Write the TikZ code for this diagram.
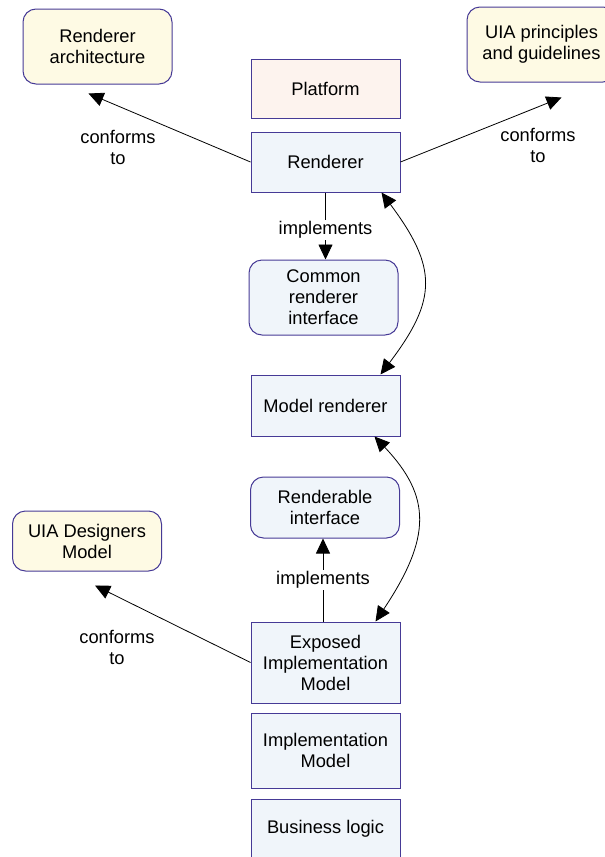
\documentclass[tikz,border=0pt]{standalone}
\usepackage{fontspec}
\setmainfont{Liberation Sans}
\usetikzlibrary{arrows.meta}
\definecolor{edgeblue}{HTML}{463A96}
\definecolor{compfill}{HTML}{F0F5FA}
\definecolor{docfill}{HTML}{FEFAE4}
\definecolor{platfill}{HTML}{FDF3EE}
\begin{document}
\begin{tikzpicture}[x=1pt,y=-1pt,font=\fontsize{18.3}{21}\selectfont,
    comp/.style={draw=edgeblue,fill=compfill,line width=1pt,align=center,
        minimum width=149pt,inner sep=2pt},
    iface/.style={comp,rounded corners=13pt},
    doc/.style={comp,fill=docfill,rounded corners=13pt},
    conn/.style={line width=0.8pt,-{Triangle[length=15pt,width=14pt]}},
    both/.style={line width=0.8pt,{Triangle[length=15pt,width=14pt]}-{Triangle[length=15pt,width=14pt]}},
    lbl/.style={align=center,inner sep=1pt},
    implbl/.style={lbl,fill=white}]
    \useasboundingbox (0,0) rectangle (605,857);

    % documents
    \node[doc,minimum height=75pt] (rendarch) at (97.5,46.5) {Renderer\\architecture};
    \node[doc,minimum height=75pt] (uiaprin) at (541.5,44.5) {UIA principles\\and guidelines};
    \node[doc,minimum height=60pt] (designers) at (87,541) {UIA Designers\\Model};

    % stack
    \node[comp,fill=platfill,minimum height=59pt] (platform) at (325.5,88.5) {Platform};
    \node[comp,minimum height=60pt] (renderer) at (325.5,162) {Renderer};
    \node[iface,minimum height=75pt] (common) at (323.5,297.5) {Common\\renderer\\interface};
    \node[comp,minimum height=61pt] (modelrend) at (325.5,405.5) {Model renderer};
    \node[iface,minimum height=61pt] (renderable) at (325,507.5) {Renderable\\interface};
    \node[comp,minimum height=81pt] (exposed) at (325.5,662.5) {Exposed\\Implementation\\Model};
    \node[comp,minimum height=75pt] (implmodel) at (325.5,750.5) {Implementation\\Model};
    \node[comp,minimum height=60pt] (business) at (325.5,829) {Business logic};

    % conforms to
    \draw[conn] (renderer.west) -- ([shift={(-9,9)}]rendarch.south);
    \node[lbl] (conf1) at (118,147) {conforms\\to};
    \draw[conn] (renderer.east) -- ([shift={(20,15)}]uiaprin.south);
    \node[lbl] (conf2) at (538,145) {conforms\\to};
    \draw[conn] (exposed.west) -- ([shift={(8,14)}]designers.south);
    \node[lbl] (conf3) at (117,647) {conforms\\to};

    % implements
    \draw[conn] (renderer.south) -- (renderer.south |- common.north)
        node[implbl,midway,yshift=-4pt] {implements};
    \draw[conn] ([xshift=-2.5pt]exposed.north) -- ([xshift=-2.5pt]exposed.north |- renderable.south)
        node[implbl,midway] {implements};

    % renderer links
    \draw[both] ([xshift=-19pt]renderer.south east) .. controls +(56,75) and +(57,-75) ..
        ([xshift=-20pt]modelrend.north east);
    \draw[both] ([xshift=-26pt]modelrend.south east) .. controls +(57,60) and +(56,-84) ..
        ([xshift=-25pt]exposed.north east);
\end{tikzpicture}
\end{document}
